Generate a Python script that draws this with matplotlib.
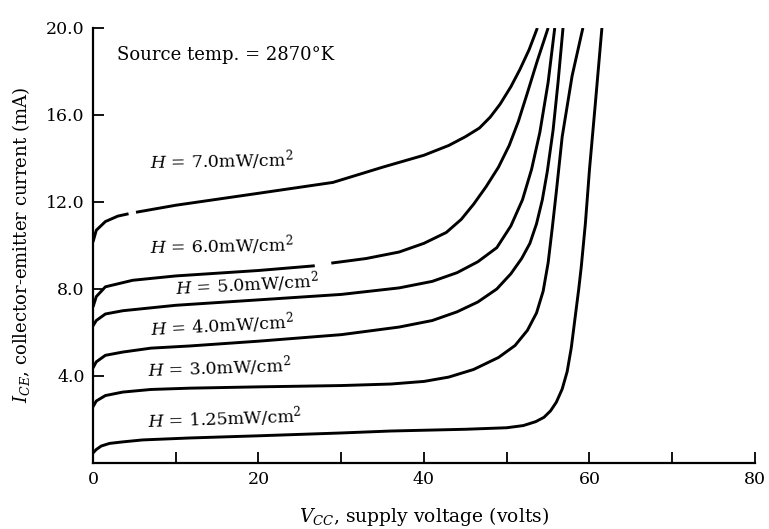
import matplotlib
matplotlib.use("Agg")
import matplotlib.pyplot as plt
import numpy as np

plt.rcParams['font.family'] = ['DejaVu Serif']
plt.rcParams['mathtext.fontset'] = 'dejavuserif'

# ---- data (V in volts, I in mA) ----
v_125 = [0, 0.4, 1, 2, 3.6, 6, 11.7, 20, 30, 36, 45, 50, 52, 53.5, 54.5, 55.3, 56, 56.7, 57.3, 57.8, 58.3, 58.7, 59.0, 59.5, 60.0, 60.7, 61.5]
i_125 = [0.46, 0.62, 0.78, 0.9, 0.97, 1.06, 1.15, 1.25, 1.38, 1.47, 1.55, 1.62, 1.72, 1.9, 2.1, 2.4, 2.8, 3.4, 4.2, 5.3, 6.8, 8.0, 9.0, 11.0, 13.5, 16.5, 20.0]

v_30 = [0, 0.4, 1.5, 3.6, 7, 11.7, 20, 30, 36, 40, 43, 46, 49, 51, 52.5, 53.6, 54.4, 55.0, 55.5, 56.0, 56.7, 57.9, 59.2]
i_30 = [2.58, 2.85, 3.1, 3.26, 3.38, 3.44, 3.5, 3.56, 3.63, 3.75, 3.95, 4.3, 4.85, 5.4, 6.1, 6.9, 7.9, 9.2, 10.8, 12.5, 15.0, 17.8, 20.0]

v_40 = [0, 0.4, 1.5, 3.6, 7, 11.7, 20, 30, 37, 41, 44, 46.5, 48.8, 50.5, 51.8, 52.8, 53.6, 54.3, 54.9, 55.6, 56.2, 56.8]
i_40 = [4.37, 4.65, 4.95, 5.1, 5.28, 5.38, 5.6, 5.9, 6.25, 6.55, 6.95, 7.4, 8.0, 8.7, 9.4, 10.1, 11.0, 12.1, 13.4, 15.3, 17.5, 20.0]

v_50 = [0, 0.4, 1.5, 3.6, 10, 20, 30, 37, 41, 44, 46.5, 48.8, 50.5, 51.9, 53, 54, 55, 55.8]
i_50 = [6.3, 6.55, 6.85, 7.0, 7.25, 7.5, 7.75, 8.05, 8.35, 8.75, 9.25, 9.9, 10.9, 12.1, 13.5, 15.2, 17.5, 20.0]

v_60 = [0, 0.4, 1.5, 4.8, 10, 20, 26.6, 29, 33, 37, 40, 42.7, 44.5, 46, 47.5, 49, 50.3, 51.4, 52.4, 53.7, 55]
i_60 = [7.17, 7.65, 8.1, 8.4, 8.6, 8.85, 9.06, 9.2, 9.4, 9.7, 10.1, 10.6, 11.2, 11.9, 12.7, 13.6, 14.6, 15.7, 16.9, 18.5, 20.0]

v_70 = [0, 0.4, 1.5, 3, 4.8, 10, 20, 29, 35, 40, 43, 45, 46.7, 48, 49.2, 50.5, 51.6, 52.7, 53.7]
i_70 = [10.16, 10.7, 11.1, 11.35, 11.5, 11.85, 12.4, 12.9, 13.6, 14.15, 14.6, 15.0, 15.4, 15.9, 16.5, 17.3, 18.1, 19.0, 20.0]

curves = [(v_125, i_125), (v_30, i_30), (v_40, i_40), (v_50, i_50), (v_60, i_60), (v_70, i_70)]
# small breaks in the printed lines (volts), per curve
breaks = [None, None, None, None, (26.8, 28.8), (4.3, 5.2)]

curve_labels = [r"$H$ = 1.25mW/cm$^2$", r"$H$ = 3.0mW/cm$^2$", r"$H$ = 4.0mW/cm$^2$",
                r"$H$ = 5.0mW/cm$^2$", r"$H$ = 6.0mW/cm$^2$", r"$H$ = 7.0mW/cm$^2$"]
label_v = [6.5, 6.5, 6.9, 9.9, 6.9, 6.9]
label_i = [2.07, 4.37, 6.35, 8.2, 10.0, 13.9]
label_rot = [2, 2, 3, 3, 1, 1]

x_ticks = [0, 10, 20, 30, 40, 50, 60, 70, 80]
x_ticklabels = ["0", "", "20", "", "40", "", "60", "", "80"]
y_ticks = [0, 4, 8, 12, 16, 20]
y_ticklabels = ["", "4.0", "8.0", "12.0", "16.0", "20.0"]

fig = plt.figure(figsize=(7.69, 5.29), dpi=100)
ax = fig.add_axes([0.1209, 0.1248, 0.8609, 0.8223])

for (v, i), br in zip(curves, breaks):
    v = np.asarray(v, float)
    i = np.asarray(i, float)
    if br is None:
        ax.plot(v, i, color='black', lw=2.1, solid_capstyle='butt', solid_joinstyle='round')
    else:
        a, b = br
        ia = np.interp(a, v, i)
        ib = np.interp(b, v, i)
        m1 = v < a
        m2 = v > b
        ax.plot(np.r_[v[m1], a], np.r_[i[m1], ia], color='black', lw=2.1,
                solid_capstyle='butt', solid_joinstyle='round')
        ax.plot(np.r_[b, v[m2]], np.r_[ib, i[m2]], color='black', lw=2.1,
                solid_capstyle='butt', solid_joinstyle='round')

for txt, lv, li, r in zip(curve_labels, label_v, label_i, label_rot):
    ax.text(lv, li, txt, fontsize=12.5, va='center', ha='left', rotation=r)

ax.text(2.9, 18.76, "Source temp. = 2870°K", fontsize=13, va='center', ha='left')

ax.set_xlim(0, 80)
ax.set_ylim(0, 20)
ax.set_xticks(x_ticks)
ax.set_xticklabels(x_ticklabels)
ax.set_yticks(y_ticks)
ax.set_yticklabels(y_ticklabels)
ax.tick_params(direction='in', length=8, width=1.3, labelsize=12.5, pad=6)
for s in ['top', 'right']:
    ax.spines[s].set_visible(False)
for s in ['left', 'bottom']:
    ax.spines[s].set_linewidth(1.6)

ax.set_xlabel(r"$V_{CC}$, supply voltage (volts)", fontsize=13.5, labelpad=12)
ax.set_ylabel(r"$I_{CE}$, collector-emitter current (mA)", fontsize=13, labelpad=10)

fig.savefig("out.png", dpi=100)
